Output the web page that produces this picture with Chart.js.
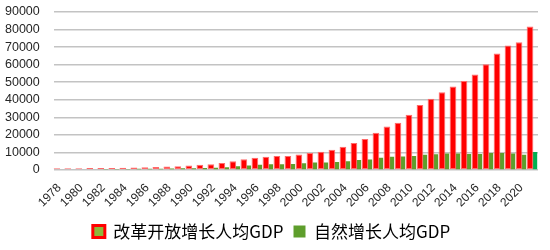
<!DOCTYPE html>
<html>
<head>
<meta charset="utf-8">
<script src="https://cdn.jsdelivr.net/npm/chart.js@4"></script>
<style>
  body { margin: 0; background: #fff; }
  #wrap { width: 550px; height: 250px; }
</style>
</head>
<body>
<div id="wrap"><canvas id="myChart"></canvas></div>
<script>
  const years = ['1978','1979','1980','1981','1982','1983','1984','1985','1986','1987','1988',
    '1989','1990','1991','1992','1993','1994','1995','1996','1997','1998','1999','2000',
    '2001','2002','2003','2004','2005','2006','2007','2008','2009','2010','2011','2012',
    '2013','2014','2015','2016','2017','2018','2019','2020','2021'];

  // 改革开放增长人均GDP
  const reformGdp = [900, 950, 1000, 1050, 1100, 1150, 1250, 1400, 1500, 1700, 1900,
    2100, 2500, 2900, 3300, 4000, 5000, 6100, 6900, 7500, 7900, 8000, 8800,
    9600, 10300, 11500, 13200, 15300, 17600, 21200, 24800, 26900, 31400, 37000, 40500,
    44300, 47600, 50700, 54400, 60200, 66300, 70900, 72800, 81800];

  // 自然增长人均GDP
  const naturalGdp = [380, 400, 430, 450, 480, 520, 560, 610, 660, 720, 800,
    900, 1000, 1100, 1300, 1600, 2100, 2600, 3000, 3200, 3300, 3400, 3800,
    4200, 4300, 4500, 5000, 5600, 6000, 6900, 7500, 7700, 8000, 8600, 9000,
    9300, 9300, 9100, 9100, 9700, 9700, 9300, 8700, 10200];

  const seriesNames = ['改革开放增长人均GDP', '自然增长人均GDP'];

  const greenColors = naturalGdp.map((v, i) => i === naturalGdp.length - 1 ? '#00b050' : '#5e9e2c');

  const ctx = document.getElementById('myChart').getContext('2d');
  Chart.defaults.font.family = "'Liberation Sans', Arial, sans-serif";
  Chart.defaults.color = '#262626';

  new Chart(ctx, {
    type: 'bar',
    data: {
      labels: years,
      datasets: [{
        label: seriesNames[0],
        data: reformGdp,
        backgroundColor: '#ff0000',
        borderColor: '#ff6a6a',
        borderWidth: 1,
        borderSkipped: false,
        barPercentage: 1.35
      }, {
        label: seriesNames[1],
        data: naturalGdp,
        backgroundColor: greenColors,
        borderWidth: 0,
        barPercentage: 0.9
      }]
    },
    options: {
      responsive: true,
      maintainAspectRatio: false,
      animation: false,
      layout: {
        padding: { left: 5, right: 12, top: 12, bottom: 0 }
      },
      scales: {
        x: {
          grid: { display: false },
          border: { display: false },
          ticks: {
            autoSkip: false,
            maxRotation: 45,
            minRotation: 45,
            padding: 3,
            font: { size: 12 },
            callback: function(val, index) {
              return index % 2 === 0 ? this.getLabelForValue(val) : '';
            }
          }
        },
        y: {
          min: 0,
          max: 90000,
          border: { display: false },
          grid: { color: '#c3c3c3', lineWidth: 1.5, drawTicks: true, tickLength: 14, tickColor: 'rgba(0,0,0,0)' },
          ticks: {
            autoSkip: false,
            stepSize: 10000,
            padding: 0,
            font: { size: 12.5 },
            callback: (v) => String(v)
          }
        }
      },
      datasets: {
        bar: { categoryPercentage: 0.9 }
      },
      plugins: {
        tooltip: { enabled: false },
        legend: {
          position: 'bottom',
          labels: {
            boxWidth: 12,
            boxHeight: 12,
            padding: 10,
            color: '#1a1a1a',
            font: { size: 17, family: "'Noto Sans CJK SC', sans-serif" },
            generateLabels: function(chart) {
              return [{
                text: seriesNames[0],
                fillStyle: '#8fb83a',
                strokeStyle: '#ff0000',
                lineWidth: 3,
                datasetIndex: 0
              }, {
                text: seriesNames[1],
                fillStyle: '#5e9e2c',
                strokeStyle: '#5e9e2c',
                lineWidth: 0,
                datasetIndex: 1
              }];
            }
          }
        }
      }
    }
  });
</script>
</body>
</html>
